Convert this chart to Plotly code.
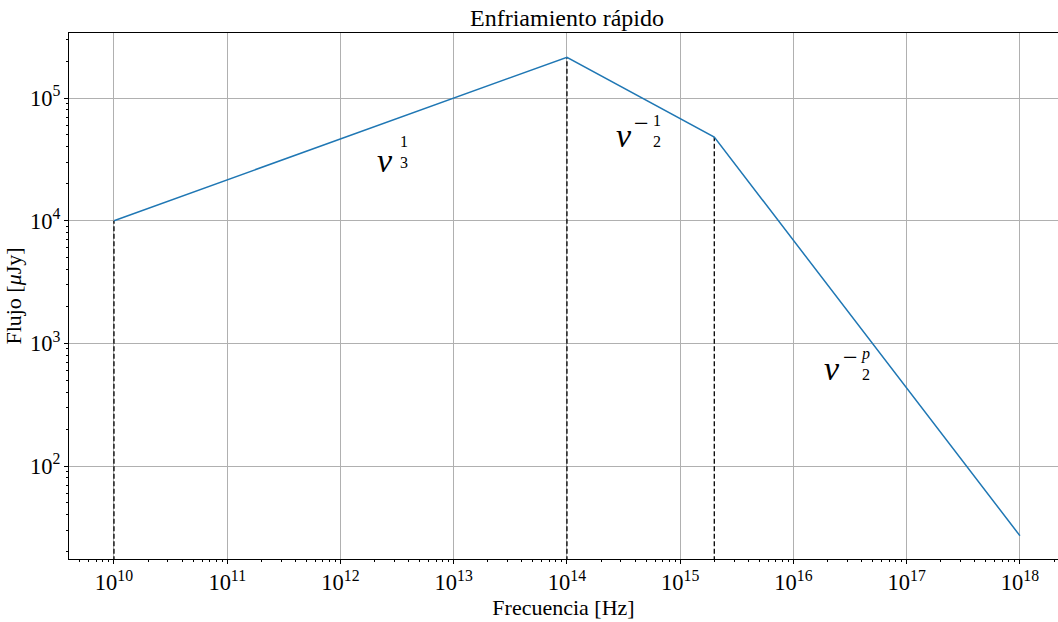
import math
import plotly.graph_objects as go

# Broken power-law spectrum (fast cooling regime)
freq_hz = [1e10, 1e14, 2e15, 1e18]
flux_ujy = [1.0e4, 2.15e5, 4.8e4, 27.0]

# Break frequencies marked with dashed guides
break_freq = [1e10, 1e14, 2e15]
break_flux = [1.0e4, 2.15e5, 4.8e4]

# Spectral-index labels: (x, y of the ν baseline, exponent sign, numerator, denominator)
slope_labels = [
    (2.14e12, 2.56e4, "", "1", "3"),
    (2.76e14, 4.08e4, "−", "1", "2"),
    (1.90e16, 5.1e2, "−", "<i>p</i>", "2"),
]

FONT = "Liberation Serif"

fig = go.Figure()

for fx, fy in zip(break_freq, break_flux):
    fig.add_trace(go.Scatter(
        x=[fx, fx], y=[1.0, fy], mode="lines",
        line=dict(color="black", width=1.3, dash="5px,2.5px"),
        showlegend=False, hoverinfo="skip",
    ))

fig.add_trace(go.Scatter(
    x=freq_hz, y=flux_ujy, mode="lines",
    line=dict(color="#1f77b4", width=1.5),
    showlegend=False,
))


def label_part(x, y, text, size, dx, dy, xanchor="center", yanchor="middle"):
    fig.add_annotation(
        x=math.log10(x), y=math.log10(y), xref="x", yref="y",
        text=text, showarrow=False, xanchor=xanchor, yanchor=yanchor,
        xshift=dx, yshift=dy, borderpad=0,
        font=dict(family=FONT, size=size, color="black"),
    )


for lx, ly, sign, num, den in slope_labels:
    label_part(lx, ly, "<i>ν</i>", 34, -2, -9, xanchor="left", yanchor="bottom")
    if sign:
        label_part(lx, ly, sign, 26, 25, 22)
        frac_dx, frac_dy = 40, 15
    else:
        frac_dx, frac_dy = 26, 19
    # stacked fraction for the exponent
    label_part(lx, ly, f"{num}<br>{den}", 16, frac_dx, frac_dy)

axis_common = dict(
    type="log",
    showgrid=True, gridcolor="#b0b0b0", gridwidth=0.8,
    showline=True, linecolor="black", linewidth=1,
    ticks="outside", ticklen=4, tickwidth=1, tickcolor="black",
    dtick=1, exponentformat="power",
    tickfont=dict(family=FONT, size=18, color="black"),
    minor=dict(ticks="outside", ticklen=2, tickwidth=0.8, tickcolor="black",
               showgrid=False, dtick="D1"),
    zeroline=False,
)

fig.update_layout(
    width=1058, height=622,
    margin=dict(l=69, r=0, t=33, b=63),
    paper_bgcolor="white", plot_bgcolor="white",
    font=dict(family=FONT, color="black"),
    title=dict(text="Enfriamiento rápido", x=567 / 1058, xanchor="center",
               xref="container", y=1 - 18 / 622, yanchor="middle",
               font=dict(family=FONT, size=24, color="black")),
    xaxis=dict(axis_common, range=[9.603, 18.336], mirror=True,
               title=dict(text="Frecuencia [Hz]", standoff=4,
                          font=dict(family=FONT, size=22, color="black"))),
    yaxis=dict(axis_common, range=[1.242, 5.53],
               title=dict(text="Flujo [<i>μ</i>Jy]", standoff=2,
                          font=dict(family=FONT, size=22, color="black"))),
)

fig.write_html("out.html")
